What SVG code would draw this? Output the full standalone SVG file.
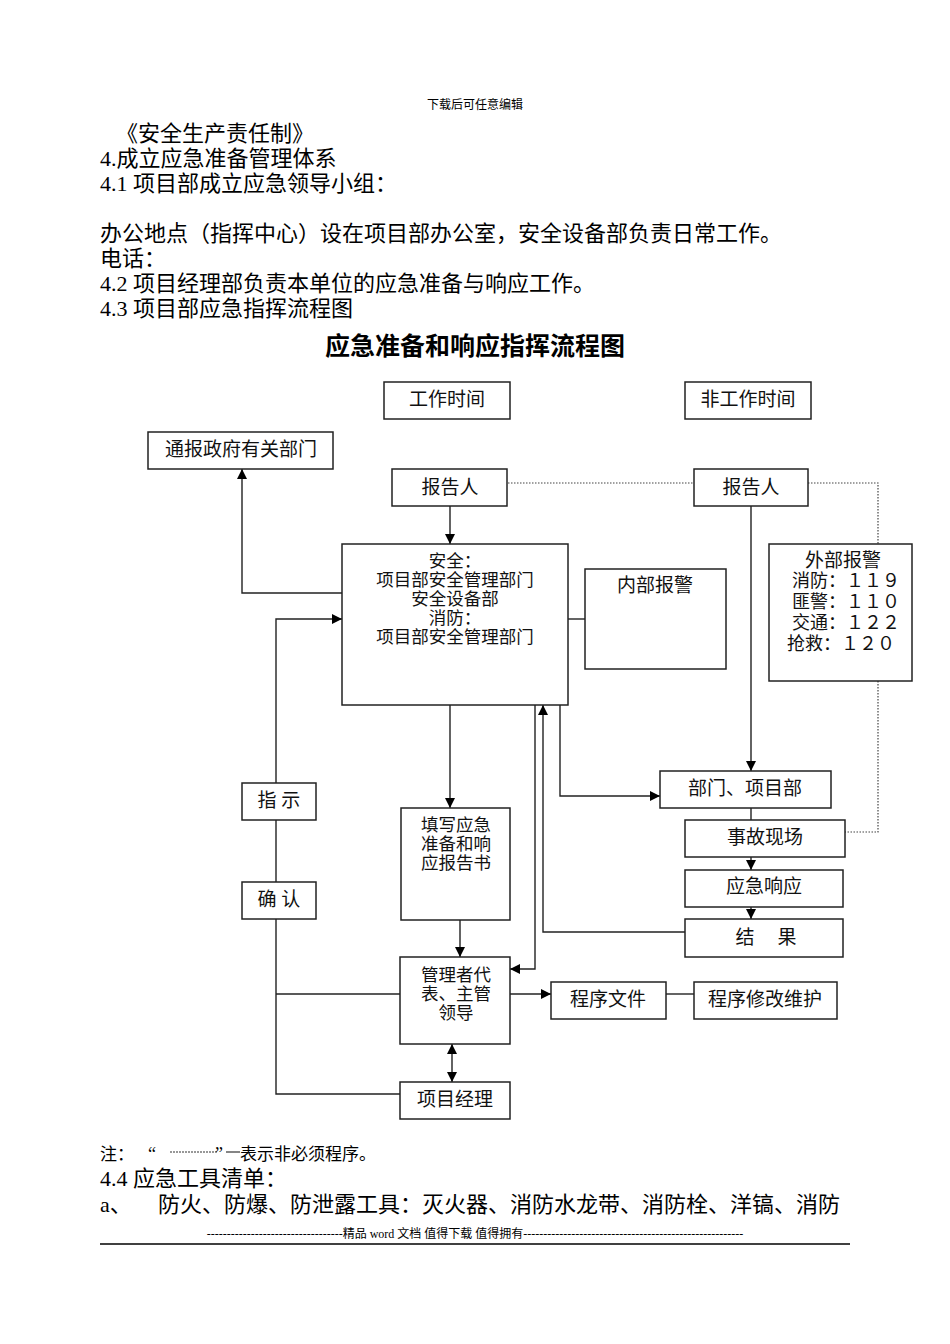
<svg xmlns="http://www.w3.org/2000/svg" width="950" height="1344" viewBox="0 0 950 1344">
<style>
.body{font-family:"Liberation Serif","Noto Sans CJK SC",serif;font-size:22px;fill:#000}
.node rect{fill:#fff;stroke:#222;stroke-width:1.5}
.node text,.lbl{font-family:"Liberation Serif","Noto Sans CJK SC",serif;font-size:19px;fill:#111;text-anchor:middle}
.node text.t{font-size:17.5px}
.c{fill:none;stroke:#222;stroke-width:1.4}
.d{fill:none;stroke:#444;stroke-width:1.2;stroke-dasharray:1.5 1.5}
</style>
<defs>
<marker id="ah" viewBox="0 0 10 10" refX="10" refY="5" markerWidth="10" markerHeight="10" markerUnits="userSpaceOnUse" orient="auto-start-reverse">
<path d="M0,0 L10,5 L0,10 z" fill="#000"/>
</marker>
</defs>
<rect width="950" height="1344" fill="#fff"/>

<g id="page-text">
<text x="475" y="109" style="font-family:'Liberation Serif','Noto Sans CJK SC',serif;font-size:12px;text-anchor:middle">下载后可任意编辑</text>
<text class="body" x="116" y="141">《安全生产责任制》</text>
<text class="body" x="100" y="166">4.成立应急准备管理体系</text>
<text class="body" x="100" y="191">4.1 项目部成立应急领导小组：</text>
<text class="body" x="100" y="241">办公地点（指挥中心）设在项目部办公室，安全设备部负责日常工作。</text>
<text class="body" x="100" y="266">电话：</text>
<text class="body" x="100" y="291">4.2 项目经理部负责本单位的应急准备与响应工作。</text>
<text class="body" x="100" y="316">4.3 项目部应急指挥流程图</text>
<text x="475" y="355" style="font-family:'Liberation Sans','Noto Sans CJK SC',sans-serif;font-size:25px;font-weight:bold;text-anchor:middle">应急准备和响应指挥流程图</text>
</g>

<g id="connectors">
<line class="c" x1="450" y1="506" x2="450" y2="544" marker-end="url(#ah)"/>
<line class="d" x1="508" y1="483" x2="694" y2="483"/>
<polyline class="d" points="808,483 878,483 878,544"/>
<polyline class="d" points="878,681 878,832 845,832"/>
<line class="c" x1="751" y1="506" x2="751" y2="771" marker-end="url(#ah)"/>
<polyline class="c" points="342,593 242,593 242,469" marker-end="url(#ah)"/>
<polyline class="c" points="276,783 276,619 342,619" marker-end="url(#ah)"/>
<line class="c" x1="276" y1="820" x2="276" y2="882"/>
<polyline class="c" points="276,919 276,1094 400,1094"/>
<line class="c" x1="276" y1="994" x2="400" y2="994"/>
<line class="c" x1="568" y1="619" x2="585" y2="619"/>
<line class="c" x1="450" y1="705" x2="450" y2="808" marker-end="url(#ah)"/>
<line class="c" x1="460" y1="920" x2="460" y2="957" marker-end="url(#ah)"/>
<polyline class="c" points="535,705 535,969 510,969" marker-end="url(#ah)"/>
<polyline class="c" points="685,932 543,932 543,705" marker-end="url(#ah)"/>
<polyline class="c" points="560,705 560,796 660,796" marker-end="url(#ah)"/>
<line class="c" x1="751" y1="808" x2="751" y2="820"/>
<line class="c" x1="751" y1="857" x2="751" y2="870" marker-end="url(#ah)"/>
<line class="c" x1="751" y1="907" x2="751" y2="919" marker-end="url(#ah)"/>
<line class="c" x1="510" y1="994" x2="551" y2="994" marker-end="url(#ah)"/>
<line class="c" x1="666" y1="994" x2="694" y2="994"/>
<line class="c" x1="452" y1="1044" x2="452" y2="1082" marker-start="url(#ah)" marker-end="url(#ah)"/>
</g>

<g id="n-work" class="node"><rect x="384" y="382" width="126" height="37"/><text x="447" y="406">工作时间</text></g>
<g id="n-offwork" class="node"><rect x="685" y="382" width="126" height="37"/><text x="748" y="406">非工作时间</text></g>
<g id="n-gov" class="node"><rect x="148" y="432" width="185" height="37"/><text x="241" y="456">通报政府有关部门</text></g>
<g id="n-reporter1" class="node"><rect x="392" y="469" width="115" height="37"/><text x="450" y="494">报告人</text></g>
<g id="n-reporter2" class="node"><rect x="694" y="469" width="114" height="37"/><text x="751" y="494">报告人</text></g>
<g id="n-main" class="node"><rect x="342" y="544" width="226" height="161"/>
<text class="t" x="455" y="567">安全：</text>
<text class="t" x="455" y="586">项目部安全管理部门</text>
<text class="t" x="455" y="605">安全设备部</text>
<text class="t" x="455" y="624">消防：</text>
<text class="t" x="455" y="643">项目部安全管理部门</text>
</g>
<g id="n-internal" class="node"><rect x="585" y="569" width="141" height="100"/><text x="655" y="592">内部报警</text></g>
<g id="n-external" class="node"><rect x="769" y="544" width="143" height="137"/>
<text x="843" y="567">外部报警</text>
<text x="792" y="587" style="text-anchor:start;font-size:18px">消防：１１９</text>
<text x="792" y="608" style="text-anchor:start;font-size:18px">匪警：１１０</text>
<text x="792" y="629" style="text-anchor:start;font-size:18px">交通：１２２</text>
<text x="787" y="650" style="text-anchor:start;font-size:18px">抢救：１２０</text>
</g>
<g id="n-dept" class="node"><rect x="660" y="771" width="171" height="37"/><text x="745" y="795">部门、项目部</text></g>
<g id="n-scene" class="node"><rect x="685" y="820" width="160" height="37"/><text x="765" y="844">事故现场</text></g>
<g id="n-response" class="node"><rect x="685" y="870" width="158" height="37"/><text x="764" y="893">应急响应</text></g>
<g id="n-result" class="node"><rect x="685" y="919" width="158" height="38"/><text y="944"><tspan x="745">结</tspan><tspan x="787">果</tspan></text></g>
<g id="n-instruct" class="node"><rect x="242" y="783" width="74" height="37"/><text x="279" y="807">指 示</text></g>
<g id="n-confirm" class="node"><rect x="242" y="882" width="74" height="37"/><text x="279" y="906">确 认</text></g>
<g id="n-report" class="node"><rect x="401" y="808" width="109" height="112"/>
<text class="t" x="456" y="831">填写应急</text>
<text class="t" x="456" y="850">准备和响</text>
<text class="t" x="456" y="869">应报告书</text>
</g>
<g id="n-manager" class="node"><rect x="400" y="957" width="110" height="87"/>
<text class="t" x="456" y="981">管理者代</text>
<text class="t" x="456" y="1000">表、主管</text>
<text class="t" x="456" y="1019">领导</text>
</g>
<g id="n-procfile" class="node"><rect x="551" y="982" width="115" height="37"/><text x="608" y="1006">程序文件</text></g>
<g id="n-procmaint" class="node"><rect x="694" y="982" width="143" height="37"/><text x="765" y="1006">程序修改维护</text></g>
<g id="n-pm" class="node"><rect x="400" y="1082" width="110" height="37"/><text x="455" y="1106">项目经理</text></g>

<g id="footer-text">
<text x="100" y="1160" style="font-family:'Liberation Serif','Noto Sans CJK SC',serif;font-size:17px">注：</text>
<text x="148" y="1160" style="font-family:'Liberation Serif','Noto Sans CJK SC',serif;font-size:18px">“</text>
<line x1="170" y1="1152" x2="218" y2="1152" stroke="#333" stroke-width="1.2" stroke-dasharray="2 1"/>
<text x="215" y="1160" style="font-family:'Liberation Serif','Noto Sans CJK SC',serif;font-size:18px">”</text>
<line x1="226" y1="1152" x2="240" y2="1152" stroke="#333" stroke-width="1.2"/>
<text x="240" y="1160" style="font-family:'Liberation Serif','Noto Sans CJK SC',serif;font-size:17px">表示非必须程序。</text>
<text class="body" x="100" y="1186">4.4 应急工具清单：</text>
<text class="body" x="100" y="1212">a、</text>
<text class="body" x="158" y="1212">防火、防爆、防泄露工具：灭火器、消防水龙带、消防栓、洋镐、消防</text>
<text x="475" y="1238" style="font-family:'Liberation Serif','Noto Sans CJK SC',serif;font-size:12px;text-anchor:middle">----------------------------------精品 word 文档 值得下载 值得拥有-------------------------------------------------------</text>
<line x1="100" y1="1244" x2="850" y2="1244" stroke="#000" stroke-width="1.5"/>
</g>
</svg>
